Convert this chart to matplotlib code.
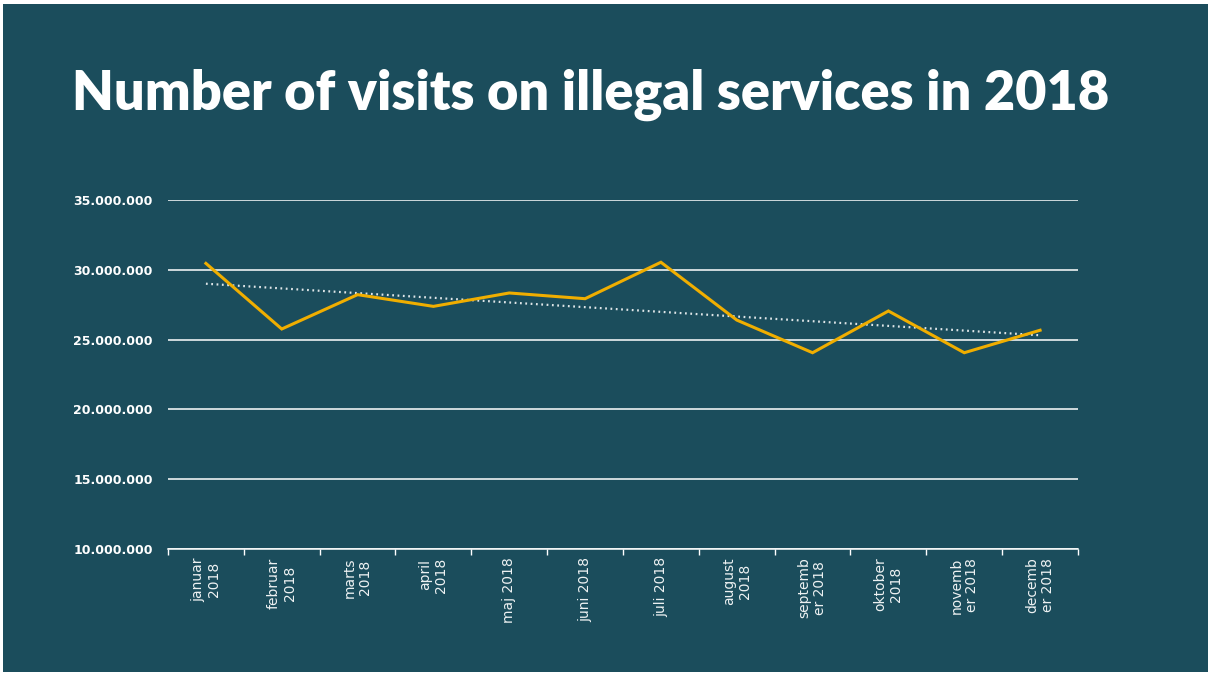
import numpy as np
import matplotlib.pyplot as plt
from matplotlib.patches import Rectangle
from matplotlib.ticker import FuncFormatter

# data
months = ['januar\n2018', 'februar\n2018', 'marts\n2018', 'april\n2018',
          'maj 2018', 'juni 2018', 'juli 2018', 'august\n2018',
          'septemb\ner 2018', 'oktober\n2018', 'novemb\ner 2018', 'decemb\ner 2018']
visits = [30460000, 25760000, 28220000, 27380000, 28340000, 27930000,
          30540000, 26400000, 24060000, 27050000, 24060000, 25670000]
y_ticks = [10000000, 15000000, 20000000, 25000000, 30000000, 35000000]

bg = '#1b4d5c'
gold = '#f0ae00'

W, H = 1211, 674
fig = plt.figure(figsize=(W / 100, H / 100), dpi=100, facecolor='white')
# slide background with thin white margin like the screenshot
fig.patches.append(Rectangle((3 / W, 2 / H), 1205 / W, 668 / H,
                             transform=fig.transFigure, facecolor=bg,
                             edgecolor='none', zorder=-10))

ax = fig.add_axes([168 / W, 1 - 549 / H, 910 / W, 349 / H])
ax.set_zorder(1)
ax.patch.set_alpha(0)

x = np.arange(len(months))
ax.plot(x, visits, color=gold, lw=2.2, zorder=3, solid_joinstyle='miter')

# linear trend line
k, m = np.polyfit(x, visits, 1)
ax.plot(x, k * x + m, color='#dfe6e8', lw=1.6, ls=(0, (0.8, 1.6)), zorder=2)

ax.set_xlim(-0.5, len(months) - 0.5)
ax.set_ylim(y_ticks[0], y_ticks[-1])
ax.set_yticks(y_ticks)
ax.yaxis.set_major_formatter(FuncFormatter(lambda v, p: f'{int(v):,}'.replace(',', '.')))
ax.grid(axis='y', color='white', lw=1.1)
ax.set_axisbelow(True)

for s in ['top', 'right', 'left']:
    ax.spines[s].set_visible(False)
ax.spines['bottom'].set_color('white')
ax.spines['bottom'].set_linewidth(1.1)

ax.tick_params(axis='y', length=0, pad=11, labelcolor='white', labelsize=9)
for lab in ax.get_yticklabels():
    lab.set_fontweight('bold')
    lab.set_family('DejaVu Sans')

ax.set_xticks(x)
ax.set_xticklabels(months, rotation=90, color='#eef2f3', fontsize=10,
                   va='top', ha='center', multialignment='center',
                   family='DejaVu Sans', linespacing=1.15)
ax.tick_params(axis='x', which='major', length=0, pad=6)
ax.set_xticks(np.arange(-0.5, len(months)), minor=True)
ax.tick_params(axis='x', which='minor', length=4, color='white', width=1)

title = fig.text(72 / W, 1 - 110 / H, 'Number of visits on illegal services in 2018',
                 color='white', fontsize=38, fontweight='heavy', family='Lato',
                 ha='left', va='baseline')
# fit title width to the reference
fig.canvas.draw()
bb = title.get_window_extent()
title.set_fontsize(38 * 1036 / bb.width)

fig.savefig('out.png', dpi=100, facecolor='white')
